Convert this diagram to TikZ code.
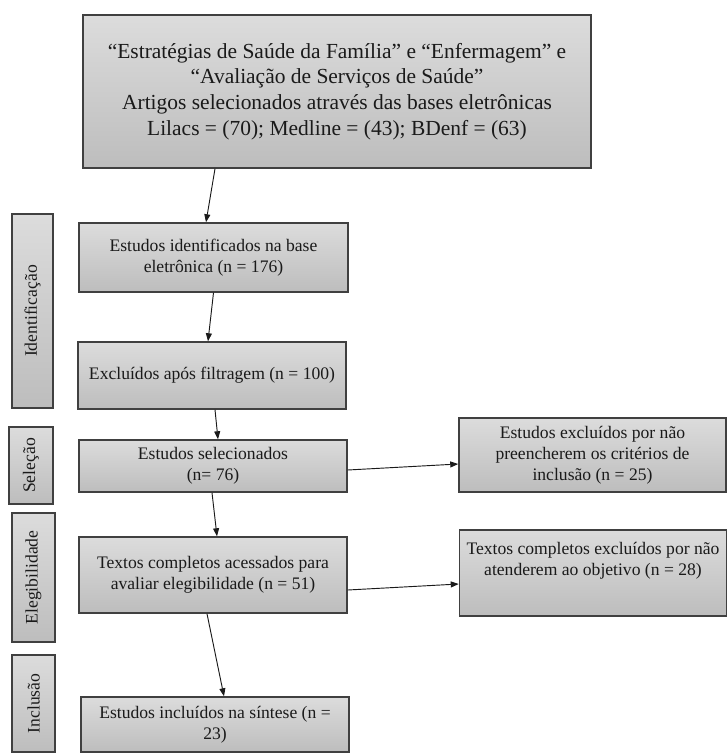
\documentclass[tikz,border=0pt]{standalone}
\usepackage{fontspec}
\setmainfont{Liberation Serif}
\usetikzlibrary{arrows.meta}
\definecolor{Borda}{HTML}{404040}
\definecolor{CinzaTopo}{HTML}{DCDCDC}
\definecolor{CinzaBase}{HTML}{BDBDBD}
\definecolor{Tinta}{HTML}{1A1A1A}

\begin{document}
\begin{tikzpicture}[x=0.75pt,y=-0.75pt,
  caixa/.style={draw=Borda,line width=1.1pt,top color=CinzaTopo,bottom color=CinzaBase,
    align=center,inner sep=2pt,text=Tinta,font=\fontsize{13.2}{15.75}\selectfont},
  seta/.style={Tinta,line width=0.7pt,-{Triangle[length=6pt,width=4.5pt]}}]
  \useasboundingbox (0,0) rectangle (727,754);
  % caixa de busca
  \node[caixa,minimum width=381pt,minimum height=114.75pt,font=\fontsize{16.1}{19.3}\selectfont] (busca) at (337,91.5)
    {``Estratégias de Saúde da Família'' e ``Enfermagem'' e\\``Avaliação de Serviços de Saúde''\\Artigos selecionados através das bases eletrônicas\\Lilacs = (70); Medline = (43); BDenf = (63)};
  % fases
  \node[caixa,minimum width=30.75pt,minimum height=145.5pt] (fIdent) at (32.5,311) {\rotatebox{90}{Identificação}};
  \node[caixa,minimum width=33pt,minimum height=57.75pt] (fSelec) at (31,465.5) {\rotatebox{90}{Seleção}};
  \node[caixa,minimum width=32.25pt,minimum height=96.75pt] (fEleg) at (33.5,577.5) {\rotatebox{90}{Elegibilidade}};
  \node[caixa,minimum width=32.25pt,minimum height=72.75pt] (fInclu) at (33.5,703.5) {\rotatebox{90}{Inclusão}};
  % fluxo principal
  \node[caixa,minimum width=201.75pt,minimum height=51.75pt] (ident) at (213.5,257.5)
    {Estudos identificados na base\\eletrônica (n = 176)};
  \node[caixa,minimum width=201pt,minimum height=50.25pt] (filtr) at (212,375.5)
    {Excluídos após filtragem (n = 100)};
  \node[caixa,minimum width=201pt,minimum height=39pt] (selec) at (213,466)
    {Estudos selecionados\\(n= 76)};
  \node[caixa,minimum width=201pt,minimum height=57pt] (texto) at (213,575)
    {Textos completos acessados para\\avaliar elegibilidade (n = 51)};
  \node[caixa,minimum width=201pt,minimum height=41.25pt] (inclu) at (215,724.5)
    {Estudos incluídos na síntese (n =\\23)};
  % exclusoes
  \node[caixa,minimum width=200.25pt,minimum height=55.5pt] (exc1) at (592.5,455)
    {Estudos excluídos por não\\preencherem os critérios de\\inclusão (n = 25)};
  \node[caixa,minimum width=200.25pt,minimum height=64.5pt] (exc2) at (593,573)
    {Textos completos excluídos por não\\atenderem ao objetivo (n = 28)\\\strut};
  % setas
  \draw[seta] ([shift={(-122,0)}]busca.south) -- ([shift={(-7.5,0)}]ident.north);
  \draw[seta] (ident.south) -- ([shift={(-4,0)}]filtr.north);
  \draw[seta] ([shift={(3,0)}]filtr.south) -- ([shift={(5,0)}]selec.north);
  \draw[seta] ([shift={(-1,0)}]selec.south) -- ([shift={(4,0)}]texto.north);
  \draw[seta] ([shift={(-6,0)}]texto.south) -- ([shift={(9,0)}]inclu.north);
  \draw[seta] ([shift={(0,4)}]selec.east) -- ([shift={(0,9)}]exc1.west);
  \draw[seta] ([shift={(0,15)}]texto.east) -- ([shift={(0,11)}]exc2.west);
\end{tikzpicture}
\end{document}
